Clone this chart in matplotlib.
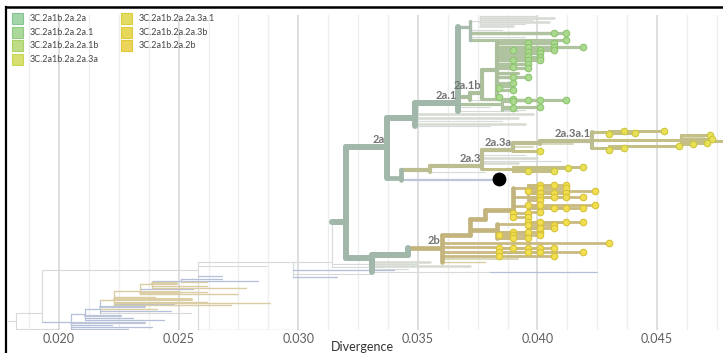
import matplotlib
matplotlib.use("Agg")
import numpy as np
import matplotlib.pyplot as plt
from matplotlib.lines import Line2D
from matplotlib.patches import Rectangle

plt.rcParams['font.family'] = ['Lato', 'DejaVu Sans']

W_PX, H_PX = 723, 353

# legend
legend_labels = ["3C.2a1b.2a.2a", "3C.2a1b.2a.2a.1", "3C.2a1b.2a.2a.1b",
                 "3C.2a1b.2a.2a.3a", "3C.2a1b.2a.2a.3a.1", "3C.2a1b.2a.2a.3b",
                 "3C.2a1b.2a.2b"]
legend_fill = ["#a3d5ab", "#acd89c", "#c0dc88", "#d6df70",
               "#e3dc62", "#e8d85a", "#ebd55a"]
legend_edge = ["#84c593", "#90cc7f", "#a9d164", "#c7d851",
               "#d8cf3d", "#dfcb3a", "#e3c53a"]

x_ticks = [0.020, 0.025, 0.030, 0.035, 0.040, 0.045]
x_tick_labels = ["0.020", "0.025", "0.030", "0.035", "0.040", "0.045"]

# tree: (name, parent, divergence, row, style)
lower_nodes = [
    ("L0", None, 0.0182, 321, "tg"),
    ("L1", "L0", 0.0193, 313, "tg"),
    ("Q1", "L1", 0.0258, 270, "tg"),
    ("Q2", "Q1", 0.0298, 262, "tg"),
    ("P", "Q2", 0.0314, 262, "tg"),
    ("M1", "L1", 0.0205, 322, "tb"),
    ("M2", "M1", 0.0211, 314, "tb"),
    ("M3", "M2", 0.0217, 309, "tb"),
    ("M4", "M3", 0.0223, 300, "tt"),
    ("M5", "M4", 0.0234, 291, "tt"),
    ("M6", "M5", 0.0239, 284, "tt"),
    ("M7", "M6", 0.0251, 281, "tb"),
]
backbone_nodes = [
    ("T", "P", 0.0320, 222, "trunk"),
    ("A2", "T", 0.0337, 147, "trunk"),
    ("S1", "T", 0.0331, 258, "trunk"),
    ("S2", "S1", 0.0346, 255, "trunk"),
    ("S3", "S1", 0.0380, 272, "tg"),
    ("A21p", "A2", 0.0349, 118, "trunk"),
    ("A21", "A21p", 0.0367, 103, "trunk"),
    ("A23p", "A2", 0.0343, 178, "trunk2"),
]
clade_2a1_nodes = [
    ("U", "A21", 0.0372, 27, "trunk3"),
    ("U0", "U", 0.0376, 21, "tg"),
    ("V", "A21", 0.0372, 97, "green1"),
    ("A21b", "V", 0.0377, 93, "green1"),
    ("W", "A21b", 0.0383, 70, "green1"),
    ("X", "A21", 0.0385, 104, "green2"),
]
clade_2a3_nodes = [
    ("A23q", "A23p", 0.0355, 170, "khaki1"),
    ("A23", "A23q", 0.0377, 166, "khaki1"),
    ("A23a", "A23", 0.0390, 150, "khaki1"),
    ("A23ax", "A23a", 0.0401, 143, "khaki1"),
    ("A3a1", "A23ax", 0.0423, 141, "khaki1"),
    ("K1", "A3a1", 0.0430, 132, "khaki2"),
    ("K2", "A3a1", 0.0460, 140, "khaki2"),
    ("K3", "A3a1", 0.0430, 148, "khaki2"),
    ("A23b", "A23", 0.0390, 169, "khaki2"),
]
clade_2b_nodes = [
    ("B2b", "S2", 0.0360, 248, "tan1"),
    ("C1", "B2b", 0.0372, 235, "tan1"),
    ("C2", "C1", 0.0378, 219, "tan1"),
    ("C3", "C2", 0.0390, 210, "tan1"),
    ("E1", "C3", 0.0396, 188, "tan2"),
    ("E2", "C3", 0.0396, 197, "tan2"),
    ("E3", "C3", 0.0396, 206, "tan2"),
    ("C4", "C1", 0.0383, 230, "tan1"),
    ("E5", "C4", 0.0396, 224, "tan2"),
    ("D1", "B2b", 0.0383, 247, "tan2"),
    ("D2", "B2b", 0.0383, 252, "tan2"),
    ("D3", "B2b", 0.0384, 256, "tan2"),
]

# tips: (parent, divergence, row, style, sampled dot)
lower_tips = [
    ("L0", 0.0200, 329, "tg", False),
    ("M1", 0.0239, 327, "tb", False), ("M1", 0.0229, 329, "tb", False),
    ("M1", 0.0222, 325, "tb", False), ("M1", 0.0236, 323, "tb2", False),
    ("M2", 0.0231, 318, "tb", False), ("M2", 0.0244, 320, "tb", False),
    ("M2", 0.0226, 316, "tb2", False),
    ("M3", 0.0247, 311, "tb", False), ("M3", 0.0236, 307, "tb2", False),
    ("M3", 0.0255, 313, "tg", False), ("M3", 0.0241, 309, "tt", False),
    ("M4", 0.0262, 302, "tt", False), ("M4", 0.0248, 304, "tb", False),
    ("M4", 0.0272, 305, "tt", False), ("M4", 0.0240, 297, "tt", False),
    ("M4", 0.0288, 303, "tt", False), ("M4", 0.0255, 299, "tt2", False),
    ("M5", 0.0262, 292, "tt", False), ("M5", 0.0275, 294, "tt", False),
    ("M5", 0.0256, 289, "tb", False), ("M5", 0.0250, 292, "tt2", False),
    ("M6", 0.0262, 286, "tt", False), ("M6", 0.0249, 283, "tt2", False),
    ("M6", 0.0278, 288, "tt", False),
    ("M7", 0.0283, 281, "tb", False), ("M7", 0.0268, 279, "tb", False),
    ("M7", 0.0262, 282, "tt", False),
    ("Q1", 0.0298, 330, "tb", False), ("Q1", 0.0287, 266, "tg", False),
    ("Q1", 0.0268, 276, "tb", False),
    ("Q2", 0.0340, 270, "tb", False), ("Q2", 0.0316, 277, "tb", False),
    ("Q2", 0.0330, 274, "tg", False),
    ("P", 0.0350, 264, "tg", False), ("P", 0.0336, 267, "tg", False),
]
backbone_tips = [
    ("S1", 0.0355, 262, "tgr", False), ("S1", 0.0372, 266, "tgr", False),
    ("S1", 0.0346, 269, "tg", False),
    ("S3", 0.0425, 272, "tb", False),
    ("A21", 0.0380, 107, "tg", False), ("A21", 0.0392, 111, "tg", False),
    ("A21p", 0.0398, 114, "tgr", False), ("A21p", 0.0392, 118, "tgr", False),
    ("A21p", 0.0385, 121, "tg", False), ("A21p", 0.0395, 124, "tgr", False),
    ("A21p", 0.0380, 126, "tg", False),
    ("A23p", 0.0383, 180, "tb2", False),
]
clade_2a1_tips = [
    ("U0", 0.0400, 16, "tg", False), ("U0", 0.0407, 18, "tgr", False),
    ("U0", 0.0398, 20, "tg", False), ("U0", 0.0405, 22, "tgr", False),
    ("U0", 0.0395, 24, "tg", False), ("U0", 0.0390, 26, "tgr", False),
    ("U", 0.0385, 30, "tg", False), ("U", 0.0395, 37, "tg", False),
    ("U", 0.0407, 33, "green2", True), ("U", 0.0412, 33, "green2", True),
    ("U", 0.0412, 40, "green2", True),
    ("V", 0.0390, 100, "tg", False),
    ("A21b", 0.0390, 99, "green2", True),
    ("W", 0.0390, 50, "green2", True), ("W", 0.0390, 60, "green2", True),
    ("W", 0.0390, 67, "green2", True), ("W", 0.0390, 77, "green2", True),
    ("W", 0.0390, 83, "green2", True), ("W", 0.0390, 90, "green2", True),
    ("W", 0.0396, 43, "green2", True), ("W", 0.0396, 47, "green2", True),
    ("W", 0.0396, 52, "green2", True), ("W", 0.0396, 56, "green2", True),
    ("W", 0.0396, 60, "green2", True), ("W", 0.0396, 64, "green2", True),
    ("W", 0.0396, 68, "green2", True), ("W", 0.0396, 77, "green2", True),
    ("W", 0.0401, 50, "green2", True), ("W", 0.0401, 53, "green2", True),
    ("W", 0.0401, 57, "green2", True), ("W", 0.0401, 60, "green2", True),
    ("W", 0.0407, 43, "green2", True), ("W", 0.0407, 47, "green2", True),
    ("W", 0.0407, 50, "green2", True), ("W", 0.0419, 47, "green2", True),
    ("W", 0.0384, 88, "green2", True), ("W", 0.0384, 97, "green2", True),
    ("W", 0.0392, 73, "green2", False), ("W", 0.0390, 86, "green2", False),
    ("X", 0.0390, 101, "green2", True), ("X", 0.0396, 100, "green2", True),
    ("X", 0.0401, 100, "green2", True), ("X", 0.0412, 100, "green2", True),
    ("X", 0.0390, 108, "green2", True), ("X", 0.0401, 107, "green2", True),
    ("X", 0.0395, 110, "tg", False),
]
clade_2a3_tips = [
    ("A23q", 0.0378, 172, "tg", False),
    ("A23", 0.0395, 155, "tg", False), ("A23", 0.0400, 158, "tgr", False),
    ("A23", 0.0410, 161, "tg", False), ("A23", 0.0392, 163, "tgr", False),
    ("A23a", 0.0401, 151, "khaki2", True), ("A23a", 0.0398, 147, "tk", False),
    ("A23ax", 0.0415, 144, "tk", False),
    ("K1", 0.0430, 134, "khaki2", True), ("K1", 0.0436, 131, "khaki2", True),
    ("K1", 0.0441, 133, "khaki2", True), ("K1", 0.0453, 131, "khaki2", True),
    ("K2", 0.0472, 135, "khaki2", True), ("K2", 0.0473, 139, "khaki2", True),
    ("K2", 0.0479, 141, "khaki2", True), ("K2", 0.0471, 143, "khaki2", True),
    ("K2", 0.0465, 144, "khaki2", True), ("K2", 0.0470, 137, "tk", False),
    ("K2", 0.0468, 142, "tk", False),
    ("K3", 0.0430, 150, "khaki2", True), ("K3", 0.0436, 148, "khaki2", True),
    ("K3", 0.0459, 146, "khaki2", True),
    ("A23b", 0.0396, 171, "khaki2", True), ("A23b", 0.0407, 171, "khaki2", True),
    ("A23b", 0.0413, 168, "khaki2", True), ("A23b", 0.0419, 167, "khaki2", True),
]
clade_2b_tips = [
    ("B2b", 0.0430, 243, "tan2", True), ("B2b", 0.0392, 259, "tk", False),
    ("B2b", 0.0378, 262, "tt", False),
    ("C3", 0.0390, 213, "tan2", True), ("C3", 0.0396, 213, "tan2", True),
    ("C3", 0.0390, 217, "tan2", True), ("C3", 0.0396, 217, "tan2", True),
    ("E1", 0.0401, 185, "tan2", True), ("E1", 0.0407, 185, "tan2", True),
    ("E1", 0.0412, 185, "tan2", True), ("E1", 0.0401, 188, "tan2", True),
    ("E1", 0.0412, 188, "tan2", True), ("E1", 0.0424, 191, "tan2", True),
    ("E1", 0.0396, 191, "tan2", True),
    ("E2", 0.0401, 193, "tan2", True), ("E2", 0.0407, 193, "tan2", True),
    ("E2", 0.0412, 193, "tan2", True), ("E2", 0.0401, 197, "tan2", True),
    ("E2", 0.0407, 197, "tan2", True), ("E2", 0.0412, 197, "tan2", True),
    ("E2", 0.0419, 197, "tan2", True), ("E2", 0.0401, 200, "tan2", True),
    ("E3", 0.0396, 205, "tan2", True), ("E3", 0.0401, 205, "tan2", True),
    ("E3", 0.0424, 205, "tan2", True), ("E3", 0.0407, 208, "tan2", True),
    ("E3", 0.0412, 208, "tan2", True), ("E3", 0.0419, 208, "tan2", True),
    ("E3", 0.0401, 212, "tan2", True),
    ("C4", 0.0390, 232, "tan2", True), ("C4", 0.0396, 232, "tan2", True),
    ("C4", 0.0401, 232, "tan2", True), ("C4", 0.0384, 235, "tan2", True),
    ("C4", 0.0390, 235, "tan2", True), ("C4", 0.0401, 235, "tan2", True),
    ("C4", 0.0390, 238, "tan2", True), ("C4", 0.0396, 238, "tan2", True),
    ("E5", 0.0396, 222, "tan2", True), ("E5", 0.0401, 222, "tan2", True),
    ("E5", 0.0412, 222, "tan2", True), ("E5", 0.0419, 222, "tan2", True),
    ("E5", 0.0396, 225, "tan2", True), ("E5", 0.0407, 225, "tan2", True),
    ("E5", 0.0401, 228, "tan2", True), ("E5", 0.0407, 228, "tan2", True),
    ("D1", 0.0384, 248, "tan2", True), ("D1", 0.0390, 248, "tan2", True),
    ("D1", 0.0396, 248, "tan2", True), ("D1", 0.0401, 248, "tan2", True),
    ("D1", 0.0407, 248, "tan2", True),
    ("D2", 0.0384, 252, "tan2", True), ("D2", 0.0396, 252, "tan2", True),
    ("D2", 0.0401, 252, "tan2", True), ("D2", 0.0419, 252, "tan2", True),
    ("D3", 0.0384, 256, "tan2", True), ("D3", 0.0407, 256, "tan2", True),
]

clade_labels = [("2a", "A2"), ("2a.1", "A21"), ("2a.1b", "A21b"),
                ("2a.3", "A23"), ("2a.3a", "A23a"), ("2a.3a.1", "A3a1"),
                ("2b", "B2b")]
selected_node = (0.0384, 179)

STYLES = {
    "trunk": ("#a0b7aa", 4.3),
    "trunk2": ("#a0b7aa", 3.4),
    "trunk3": ("#a9bcae", 2.4),
    "green1": ("#abbf9c", 3.0),
    "green2": ("#b0c3a0", 2.3),
    "khaki1": ("#bcbd90", 3.0),
    "khaki2": ("#c4bf86", 2.2),
    "tan1": ("#c3b47d", 3.4),
    "tan2": ("#c9ba82", 2.0),
    "tg": ("#d6dad8", 0.8),
    "tgr": ("#d6dbd2", 1.8),
    "tb": ("#b4bfd9", 0.9),
    "tb2": ("#bcc5d9", 1.6),
    "tt": ("#dacca3", 1.0),
    "tt2": ("#dccfa8", 2.2),
    "tk": ("#d8d8bc", 1.4),
}
DOT_COLORS = {"green2": ("#aad98f", "#8dc56e"),
              "khaki2": ("#e8e157", "#cdc63c"),
              "tan2": ("#f1df50", "#d7c237")}

fig = plt.figure(figsize=(W_PX / 100, H_PX / 100), dpi=100)
ax = fig.add_axes([0, 23 / H_PX, 1, 315 / H_PX])
ax.set_xlim(0.01753, 0.04776)
ax.set_ylim(330, 15)
for s in ax.spines.values():
    s.set_visible(False)
ax.set_yticks([])
ax.set_xticks(x_ticks, x_tick_labels)
ax.set_xticks(np.arange(0.01875, 0.0477, 0.00125), minor=True)
ax.tick_params(which='both', length=0, pad=2.5, labelsize=9, labelcolor='#5f5f5f')
ax.grid(which='major', axis='x', color='#d4d4d4', lw=1.1, zorder=0)
ax.grid(which='minor', axis='x', color='#eeeeee', lw=0.9, zorder=0)
ax.set_axisbelow(True)

nodes = lower_nodes + backbone_nodes + clade_2a1_nodes + clade_2a3_nodes + clade_2b_nodes
tips = lower_tips + backbone_tips + clade_2a1_tips + clade_2a3_tips + clade_2b_tips

where = {name: (x, y) for name, _, x, y, _ in nodes}
kids = {}
for name, parent, x, y, style in nodes:
    if parent:
        kids.setdefault(parent, []).append(y)
for parent, x, y, style, dot in tips:
    kids.setdefault(parent, []).append(y)


def seg(xs, ys, style):
    color, lw = STYLES[style]
    ax.plot(xs, ys, color=color, lw=lw, solid_capstyle='round', zorder=1 + lw)


for name, parent, x, y, style in nodes:
    x0 = where[parent][0] if parent else 0.01785
    seg([x0, x], [y, y], style)
    if name in kids:
        ys = kids[name] + [y]
        seg([x, x], [min(ys), max(ys)], style)

dots = {}
for parent, x, y, style, dot in tips:
    seg([where[parent][0], x], [y, y], style)
    if dot:
        dots.setdefault(style, []).append((x, y))

for style, pts in dots.items():
    fc, ec = DOT_COLORS[style]
    pts = np.array(pts)
    ax.scatter(pts[:, 0], pts[:, 1], s=22, fc=fc, ec=ec, lw=0.8, zorder=10)

ax.scatter([selected_node[0]], [selected_node[1]], s=80, color='black', zorder=12)

for text, node in clade_labels:
    x, y = where[node]
    ax.annotate(text, (x, y), xytext=(-1, 2.8), textcoords='offset points',
                ha='right', va='baseline', fontsize=8, fontweight='bold',
                color='#737373', zorder=11)

fig.text(362 / W_PX, 1 - 347 / H_PX, "Divergence", ha='center', va='center',
         fontsize=9, color='#333333')

# legend
for i, label in enumerate(legend_labels):
    col, row = divmod(i, 4)
    x_px = 12 + col * 109
    y_px = 13 + row * 13.7
    fig.add_artist(Rectangle((x_px / W_PX, 1 - (y_px + 11) / H_PX), 11 / W_PX, 11 / H_PX,
                             transform=fig.transFigure, fc=legend_fill[i],
                             ec=legend_edge[i], lw=0.8))
    fig.text((x_px + 18) / W_PX, 1 - (y_px + 5.5) / H_PX, label, ha='left',
             va='center', fontsize=6.5, color='#444444')

# frame
fig.add_artist(Line2D([6 / W_PX, 6 / W_PX], [0, 1 - 7 / H_PX], transform=fig.transFigure,
                      color='black', lw=1.6))
fig.add_artist(Line2D([6 / W_PX, 1], [1 - 7 / H_PX, 1 - 7 / H_PX], transform=fig.transFigure,
                      color='black', lw=1.8))

fig.savefig("out.png", dpi=100)
